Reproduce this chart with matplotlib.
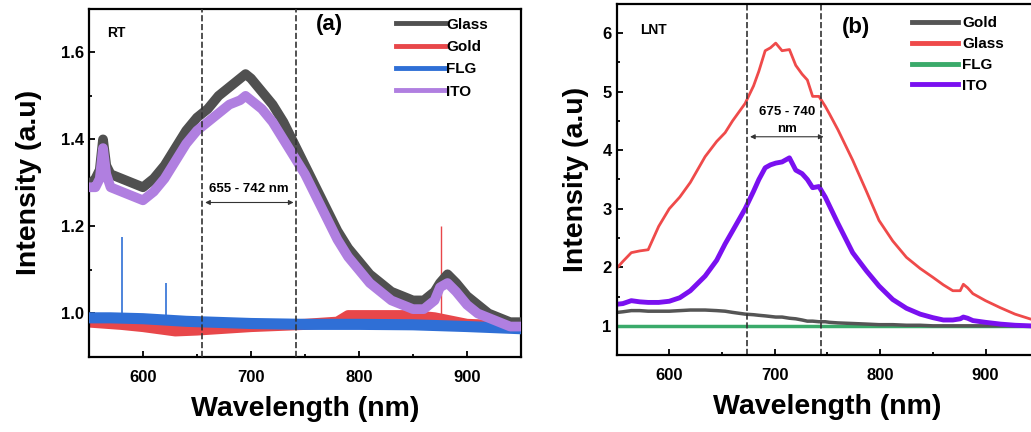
import matplotlib
matplotlib.use("Agg")
import matplotlib.pyplot as plt
from matplotlib.ticker import MultipleLocator

plt.rcParams['font.family'] = ['Liberation Sans', 'DejaVu Sans']
plt.rcParams['font.weight'] = 'bold'
plt.rcParams['lines.solid_joinstyle'] = 'round'

# ---- panel (a): room temperature ----
wl_a = [552, 556, 560, 563, 566, 570, 580, 590, 600, 610, 620, 630, 640, 650, 660, 670,
        680, 690, 695, 700, 710, 720, 730, 740, 750, 760, 770, 780, 790, 800, 810, 820,
        830, 840, 850, 860, 870, 875, 882, 890, 900, 910, 920, 930, 940, 950]
glass_a = [1.30, 1.31, 1.33, 1.40, 1.34, 1.32, 1.31, 1.30, 1.29, 1.31, 1.34, 1.38, 1.42, 1.45, 1.47, 1.50,
           1.52, 1.54, 1.55, 1.54, 1.51, 1.48, 1.44, 1.39, 1.34, 1.29, 1.24, 1.19, 1.15, 1.12, 1.09, 1.07,
           1.05, 1.04, 1.03, 1.03, 1.05, 1.07, 1.09, 1.07, 1.04, 1.02, 1.00, 0.99, 0.98, 0.98]
ito_a = [1.29, 1.29, 1.31, 1.38, 1.32, 1.29, 1.28, 1.27, 1.26, 1.28, 1.31, 1.35, 1.39, 1.42, 1.44, 1.46,
         1.48, 1.49, 1.50, 1.49, 1.47, 1.44, 1.40, 1.36, 1.32, 1.27, 1.22, 1.17, 1.13, 1.10, 1.07, 1.05,
         1.03, 1.02, 1.01, 1.01, 1.03, 1.06, 1.07, 1.05, 1.02, 1.00, 0.99, 0.98, 0.97, 0.97]
wl_gold_a = [552, 580, 600, 615, 630, 650, 700, 750, 780, 790, 800, 850, 870, 880, 900, 950]
gold_a = [0.98, 0.975, 0.97, 0.965, 0.96, 0.962, 0.97, 0.975, 0.98, 0.995, 0.995, 0.995, 0.99, 0.985, 0.975, 0.97]
wl_flg_a = [552, 570, 600, 640, 700, 750, 800, 850, 900, 950]
flg_a = [0.99, 0.99, 0.988, 0.982, 0.977, 0.975, 0.975, 0.974, 0.97, 0.965]
# sharp lines
flg_spike_wl = [581, 621]
flg_spike_top = [1.175, 1.07]
gold_spike_wl = [621, 876]
gold_spike_top = [0.99, 1.20]

# ---- panel (b): liquid nitrogen temperature ----
wl_b = [551, 556, 564, 572, 580, 590, 600, 610, 620, 634, 645, 653, 660, 672, 680, 685, 691, 696,
        701, 707, 714, 720, 726, 731, 736, 742, 748, 752, 760, 774, 787, 799, 812, 825, 838, 850,
        860, 869, 876, 879, 883, 888, 900, 914, 928, 942, 950]
glass_b = [2.0, 2.1, 2.25, 2.28, 2.3, 2.7, 3.0, 3.2, 3.45, 3.89, 4.15, 4.3, 4.5, 4.8, 5.1, 5.35, 5.7, 5.75,
           5.83, 5.7, 5.72, 5.45, 5.3, 5.2, 4.92, 4.92, 4.75, 4.62, 4.35, 3.83, 3.3, 2.8, 2.45, 2.17, 1.98, 1.83,
           1.7, 1.6, 1.6, 1.71, 1.65, 1.55, 1.43, 1.31, 1.2, 1.12, 1.08]
ito_b = [1.37, 1.38, 1.43, 1.41, 1.40, 1.40, 1.42, 1.48, 1.6, 1.85, 2.12, 2.4, 2.62, 3.0, 3.3, 3.5, 3.7, 3.75,
         3.78, 3.8, 3.87, 3.66, 3.6, 3.5, 3.36, 3.38, 3.2, 3.05, 2.75, 2.25, 1.94, 1.68, 1.45, 1.3, 1.2, 1.14,
         1.1, 1.1, 1.12, 1.15, 1.13, 1.09, 1.06, 1.03, 1.01, 1.0, 0.99]
gold_b = [1.23, 1.24, 1.26, 1.26, 1.25, 1.25, 1.25, 1.26, 1.27, 1.27, 1.26, 1.25, 1.23, 1.2, 1.19, 1.18, 1.17, 1.16,
          1.15, 1.15, 1.13, 1.12, 1.1, 1.08, 1.08, 1.07, 1.07, 1.06, 1.05, 1.04, 1.03, 1.02, 1.02, 1.01, 1.01, 1.0,
          1.0, 1.0, 1.0, 1.0, 1.0, 1.0, 1.0, 1.0, 1.0, 1.0, 1.0]
wl_flg_b = [551, 650, 750, 850, 950]
flg_b = [0.99, 0.99, 0.99, 0.99, 0.99]

fig = plt.figure(figsize=(10.31, 4.32), dpi=100)
ax1 = fig.add_axes([0.0863, 0.1736, 0.419, 0.806])
ax2 = fig.add_axes([0.598, 0.178, 0.409, 0.813])


def style(ax, ylpad):
    for s in ax.spines.values():
        s.set_linewidth(1.6)
    ax.tick_params(direction='in', which='both', labelsize=12, width=1.3)
    ax.tick_params(which='major', length=4)
    ax.tick_params(which='minor', length=2.5)
    ax.tick_params(axis='x', pad=9)
    ax.set_xlabel('Wavelength (nm)', fontsize=20.5, fontweight='bold', labelpad=8)
    ax.set_ylabel('Intensity (a.u)', fontsize=20.5, fontweight='bold', labelpad=ylpad)
    ax.set_xlim(550, 950)
    ax.xaxis.set_major_locator(MultipleLocator(100))
    ax.xaxis.set_minor_locator(MultipleLocator(50))


# panel (a)
ax1.plot(wl_gold_a, gold_a, color='#e8474a', lw=8, label='Gold', zorder=2)
ax1.vlines(gold_spike_wl, 0.975, gold_spike_top, color='#e8474a', lw=1, zorder=2)
ax1.plot(wl_flg_a, flg_a, color='#2f6fd6', lw=8, label='FLG', zorder=3)
ax1.vlines(flg_spike_wl, 0.985, flg_spike_top, color='#2f6fd6', lw=1.2, zorder=3)
ax1.plot(wl_a, glass_a, color='#505050', lw=7, label='Glass', zorder=4)
ax1.plot(wl_a, ito_a, color='#b07fe0', lw=7, label='ITO', zorder=5)
ax1.axvline(655, color='#333333', ls='--', lw=1.2, zorder=6)
ax1.axvline(742, color='#333333', ls='--', lw=1.2, zorder=6)
ax1.annotate('', xy=(655, 1.255), xytext=(742, 1.255),
             arrowprops=dict(arrowstyle='<|-|>', color='#333333', lw=0.8, mutation_scale=7))
ax1.text(698, 1.285, '655 - 742 nm', ha='center', va='center', fontsize=9.5, fontweight='bold')
ax1.text(567, 1.645, 'RT', fontsize=10, fontweight='bold', va='center')
ax1.text(773, 1.665, '(a)', fontsize=16, fontweight='bold', ha='center', va='center')
ax1.set_ylim(0.9, 1.7)
ax1.yaxis.set_major_locator(MultipleLocator(0.2))
ax1.yaxis.set_minor_locator(MultipleLocator(0.1))
h, l = ax1.get_legend_handles_labels()
order = [l.index(n) for n in ['Glass', 'Gold', 'FLG', 'ITO']]
leg1 = ax1.legend([h[i] for i in order], [l[i] for i in order], loc='upper left',
                  bbox_to_anchor=(0.71, 0.975), frameon=False, fontsize=11,
                  handlelength=3.2, handletextpad=0.1, labelspacing=0.55,
                  borderpad=0, borderaxespad=0)
for line in leg1.get_lines():
    line.set_linewidth(3.5)
style(ax1, 14)

# panel (b)
ax2.plot(wl_flg_b, flg_b, color='#3aaa6a', lw=2.5, label='FLG')
ax2.plot(wl_b, gold_b, color='#555555', lw=2.5, label='Gold')
ax2.plot(wl_b, glass_b, color='#ef4a4a', lw=2, label='Glass')
ax2.plot(wl_b, ito_b, color='#7a10f0', lw=3.5, label='ITO')
ax2.axvline(674, color='#333333', ls='--', lw=1.2)
ax2.axvline(744, color='#333333', ls='--', lw=1.2)
ax2.annotate('', xy=(674, 4.23), xytext=(749, 4.23),
             arrowprops=dict(arrowstyle='<|-|>', color='#333333', lw=0.8, mutation_scale=7))
ax2.text(712, 4.66, '675 - 740', ha='center', va='center', fontsize=9.5, fontweight='bold')
ax2.text(712, 4.36, 'nm', ha='center', va='center', fontsize=9.5, fontweight='bold')
ax2.text(572, 6.05, 'LNT', fontsize=10, fontweight='bold', va='center')
ax2.text(777, 6.1, '(b)', fontsize=16, fontweight='bold', ha='center', va='center')
ax2.set_ylim(0.5, 6.5)
ax2.yaxis.set_major_locator(MultipleLocator(1))
ax2.yaxis.set_minor_locator(MultipleLocator(0.5))
h, l = ax2.get_legend_handles_labels()
order = [l.index(n) for n in ['Gold', 'Glass', 'FLG', 'ITO']]
leg2 = ax2.legend([h[i] for i in order], [l[i] for i in order], loc='upper left',
                  bbox_to_anchor=(0.70, 0.965), frameon=False, fontsize=11,
                  handlelength=3.0, handletextpad=0.3, labelspacing=0.45,
                  borderpad=0, borderaxespad=0)
for line in leg2.get_lines():
    line.set_linewidth(3.5)
style(ax2, 10)

fig.savefig('out.png', dpi=100)
